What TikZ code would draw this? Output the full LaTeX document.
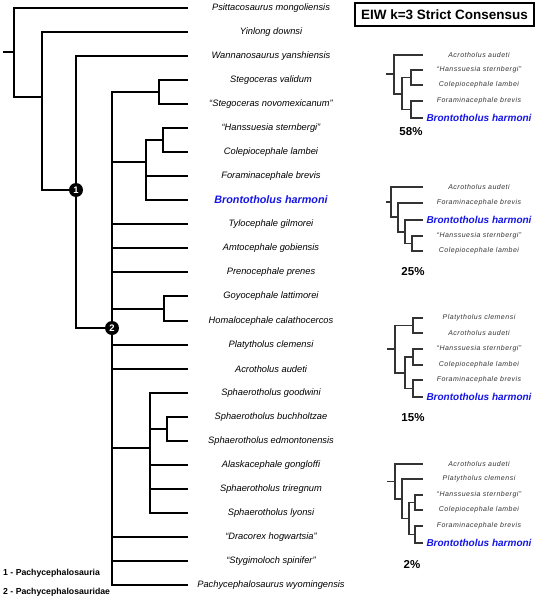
\documentclass[tikz,border=0pt]{standalone}
\usepackage{fontspec}
\setmainfont{Liberation Sans}
\newfontfamily\minifont[LetterSpace=7]{Liberation Sans}
\usetikzlibrary{positioning}
\definecolor{bronto}{RGB}{20,20,230}
\tikzset{
    branch/.style={line width=2pt},
    twig/.style={line width=1.1pt, black!80},
    taxon/.style={font=\fontsize{9.3}{11}\selectfont\itshape},
    focal/.style={font=\fontsize{10.8}{12}\selectfont\bfseries\itshape, text=bronto},
    minitaxon/.style={font=\minifont\fontsize{7}{8}\selectfont\itshape, text=black!80},
    minifocal/.style={font=\fontsize{10}{12}\selectfont\bfseries\itshape, text=bronto},
    support/.style={font=\fontsize{11.5}{13}\selectfont\bfseries},
    cladenum/.style={circle, fill=black, inner sep=0pt, minimum size=14pt,
        text=white, font=\fontsize{9.5}{10}\selectfont\bfseries},
    legend/.style={anchor=west, inner sep=0pt, font=\fontsize{8.7}{10}\selectfont\bfseries},
    titlebox/.style={draw, line width=2pt, minimum width=179pt, minimum height=23pt,
        inner sep=0pt, font=\fontsize{13.5}{15}\selectfont\bfseries},
}

\begin{document}
\begin{tikzpicture}[x=1pt, y=-1pt]

    \useasboundingbox (0,0) rectangle (539,599);

    \foreach \k/\name/\sty in {1/Psittacosaurus mongoliensis/taxon, 2/Yinlong downsi/taxon,
        3/Wannanosaurus yanshiensis/taxon, 4/Stegoceras validum/taxon,
        5/“Stegoceras novomexicanum”/taxon, 6/“Hanssuesia sternbergi”/taxon,
        7/Colepiocephale lambei/taxon, 8/Foraminacephale brevis/taxon,
        9/Brontotholus harmoni/focal, 10/Tylocephale gilmorei/taxon,
        11/Amtocephale gobiensis/taxon, 12/Prenocephale prenes/taxon,
        13/Goyocephale lattimorei/taxon, 14/Homalocephale calathocercos/taxon,
        15/Platytholus clemensi/taxon, 16/Acrotholus audeti/taxon,
        17/Sphaerotholus goodwini/taxon, 18/Sphaerotholus buchholtzae/taxon,
        19/Sphaerotholus edmontonensis/taxon, 20/Alaskacephale gongloffi/taxon,
        21/Sphaerotholus triregnum/taxon, 22/Sphaerotholus lyonsi/taxon,
        23/“Dracorex hogwartsia”/taxon, 24/“Stygimoloch spinifer”/taxon,
        25/Pachycephalosaurus wyomingensis/taxon} {
        \pgfmathsetmacro\yy{round(8+24.04*(\k-1))}
        \coordinate (e\k) at (188,\yy);
        \node[\sty] (t\k) at (271,\yy) {\name};
    }

    \coordinate (stub) at (3,52);
    \coordinate (root) at (14,52);
    \coordinate (nA) at (42,97);
    \coordinate (n1) at (76,190);
    \coordinate (n2) at (112,328);
    \coordinate (nS) at (159,92);
    \coordinate (nH) at (146,162);
    \coordinate (nHC) at (163,140);
    \coordinate (nG) at (164,309);
    \coordinate (nSp) at (150,448);
    \coordinate (nSb) at (167,429);

    \draw[branch] (stub) -- (root);
    \foreach \c in {e1, nA} \draw[branch] (root) |- (\c);
    \foreach \c in {e2, n1} \draw[branch] (nA) |- (\c);
    \foreach \c in {e3, n2} \draw[branch] (n1) |- (\c);
    \foreach \c in {nS, nH, e10, e11, e12, nG, e15, e16, nSp, e23, e24, e25}
        \draw[branch] (n2) |- (\c);
    \foreach \c in {e4, e5} \draw[branch] (nS) |- (\c);
    \foreach \c in {nHC, e8, e9} \draw[branch] (nH) |- (\c);
    \foreach \c in {e6, e7} \draw[branch] (nHC) |- (\c);
    \foreach \c in {e13, e14} \draw[branch] (nG) |- (\c);
    \foreach \c in {e17, nSb, e20, e21, e22} \draw[branch] (nSp) |- (\c);
    \foreach \c in {e18, e19} \draw[branch] (nSb) |- (\c);

    \node[cladenum] (num1) at (n1) {1};
    \node[cladenum] (num2) at (n2) {2};

    \node[legend] (k1) at (3,573) {1 - Pachycephalosauria};
    \node[legend] (k2) at (3,592) {2 - Pachycephalosauridae};

    \node[titlebox] (title) at (444.5,14.5) {EIW k=3 Strict Consensus};

    % 58%
    \foreach \k/\name/\y/\sty in {1/Acrotholus audeti/55/minitaxon,
        2/“Hanssuesia sternbergi”/70/minitaxon, 3/Colepiocephale lambei/85/minitaxon,
        4/Foraminacephale brevis/101/minitaxon, 5/Brontotholus harmoni/118/minifocal} {
        \coordinate (a\k) at (423,\y);
        \node[\sty] (at\k) at (479,\y) {\name};
    }
    \coordinate (aS) at (386,74);
    \coordinate (aR) at (394,74);
    \coordinate (aB) at (402,94);
    \coordinate (aHC) at (411,77.5);
    \coordinate (aFB) at (411,109.5);
    \draw[twig] (aS) -- (aR);
    \foreach \c in {a1, aB} \draw[twig] (aR) |- (\c);
    \foreach \c in {aHC, aFB} \draw[twig] (aB) |- (\c);
    \foreach \c in {a2, a3} \draw[twig] (aHC) |- (\c);
    \foreach \c in {a4, a5} \draw[twig] (aFB) |- (\c);
    \node[support] (aP) at (411,132) {58\%};

    % 25%
    \foreach \k/\name/\y/\sty in {1/Acrotholus audeti/187/minitaxon,
        2/Foraminacephale brevis/203/minitaxon, 3/Brontotholus harmoni/220/minifocal,
        4/“Hanssuesia sternbergi”/236/minitaxon, 5/Colepiocephale lambei/251/minitaxon} {
        \coordinate (b\k) at (423,\y);
        \node[\sty] (bt\k) at (479,\y) {\name};
    }
    \coordinate (bS) at (386,202);
    \coordinate (bR) at (391,202);
    \coordinate (bB) at (398,217);
    \coordinate (bC) at (405,232);
    \coordinate (bHC) at (412,243.5);
    \draw[twig] (bS) -- (bR);
    \foreach \c in {b1, bB} \draw[twig] (bR) |- (\c);
    \foreach \c in {b2, bC} \draw[twig] (bB) |- (\c);
    \foreach \c in {b3, bHC} \draw[twig] (bC) |- (\c);
    \foreach \c in {b4, b5} \draw[twig] (bHC) |- (\c);
    \node[support] (bP) at (413,272) {25\%};

    % 15%
    \foreach \k/\name/\y/\sty in {1/Platytholus clemensi/318/minitaxon,
        2/Acrotholus audeti/333/minitaxon, 3/“Hanssuesia sternbergi”/349/minitaxon,
        4/Colepiocephale lambei/365/minitaxon, 5/Foraminacephale brevis/380/minitaxon,
        6/Brontotholus harmoni/397/minifocal} {
        \coordinate (c\k) at (423,\y);
        \node[\sty] (ct\k) at (479,\y) {\name};
    }
    \coordinate (cS) at (387,349);
    \coordinate (cR) at (395,349);
    \coordinate (cPA) at (413,325.5);
    \coordinate (cB) at (405,373);
    \coordinate (cHC) at (413,357);
    \coordinate (cFB) at (413,388.5);
    \draw[twig] (cS) -- (cR);
    \foreach \c in {cPA, cB} \draw[twig] (cR) |- (\c);
    \foreach \c in {c1, c2} \draw[twig] (cPA) |- (\c);
    \foreach \c in {cHC, cFB} \draw[twig] (cB) |- (\c);
    \foreach \c in {c3, c4} \draw[twig] (cHC) |- (\c);
    \foreach \c in {c5, c6} \draw[twig] (cFB) |- (\c);
    \node[support] (cP) at (413,418) {15\%};

    % 2%
    \foreach \k/\name/\y/\sty in {1/Acrotholus audeti/464/minitaxon,
        2/Platytholus clemensi/479/minitaxon, 3/“Hanssuesia sternbergi”/495/minitaxon,
        4/Colepiocephale lambei/510/minitaxon, 5/Foraminacephale brevis/526/minitaxon,
        6/Brontotholus harmoni/543/minifocal} {
        \coordinate (d\k) at (423,\y);
        \node[\sty] (dt\k) at (479,\y) {\name};
    }
    \coordinate (dS) at (387,481.5);
    \coordinate (dR) at (395,481.5);
    \coordinate (dB) at (402,499);
    \coordinate (dC) at (409,518.5);
    \coordinate (dHC) at (415,502.5);
    \coordinate (dFB) at (415,534.5);
    \draw[twig] (dS) -- (dR);
    \foreach \c in {d1, dB} \draw[twig] (dR) |- (\c);
    \foreach \c in {d2, dC} \draw[twig] (dB) |- (\c);
    \foreach \c in {dHC, dFB} \draw[twig] (dC) |- (\c);
    \foreach \c in {d3, d4} \draw[twig] (dHC) |- (\c);
    \foreach \c in {d5, d6} \draw[twig] (dFB) |- (\c);
    \node[support] (dP) at (412,565) {2\%};

\end{tikzpicture}
\end{document}
